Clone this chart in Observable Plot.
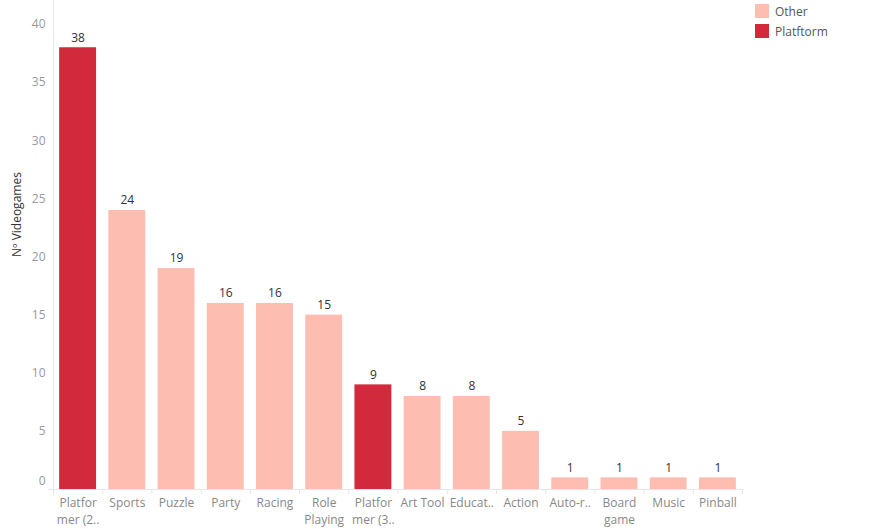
<!DOCTYPE html>
<html>
<head>
<meta charset="utf-8">
<script src="https://cdn.jsdelivr.net/npm/d3@7"></script>
<script src="https://cdn.jsdelivr.net/npm/@observablehq/plot@0.6"></script>
<style>
  body { margin: 0; background: #fff; }
  #wrap { position: relative; width: 892px; height: 529px; font-family: "Open Sans", Lato, sans-serif; }
  #legend { position: absolute; left: 755px; top: 1px; font-size: 12px; color: #555; }
  .item { display: flex; align-items: center; height: 20px; }
  .sw { width: 14px; height: 14px; margin-right: 6px; }
</style>
</head>
<body>
<div id="wrap"><div id="legend"></div></div>
<script>
const categories = ["Platformer (2D)", "Sports", "Puzzle", "Party", "Racing", "Role Playing", "Platformer (3D)", "Art Tool", "Educational", "Action", "Auto-runner", "Board game", "Music", "Pinball"];
const tickLabels = ["Platfor\nmer (2..", "Sports", "Puzzle", "Party", "Racing", "Role\nPlaying", "Platfor\nmer (3..", "Art Tool", "Educat..", "Action", "Auto-r..", "Board\ngame", "Music", "Pinball"];
const values = [38, 24, 19, 16, 16, 15, 9, 8, 8, 5, 1, 1, 1, 1];
const groups = ["Platftorm", "Other", "Other", "Other", "Other", "Other", "Platftorm", "Other", "Other", "Other", "Other", "Other", "Other", "Other"];
const legendNames = ["Other", "Platftorm"];
const legendColors = ["#fdbdb1", "#d3293d"];
const yTicks = [5, 10, 15, 20, 25, 30, 35, 40];
const yTickZero = [0];

const data = categories.map((c, i) => ({cat: c, value: values[i], group: groups[i]}));
const labelOf = new Map(categories.map((c, i) => [c, tickLabels[i]]));

const W = 892, ML = 53, MR = 150;
const halfStep = (W - ML - MR) / categories.length / 2;

const chart = Plot.plot({
  width: W,
  height: 529,
  marginLeft: ML,
  marginRight: MR,
  marginTop: 24,
  marginBottom: 40,
  style: {fontFamily: "'Open Sans', Lato, sans-serif", fontSize: "12px", background: "#fff"},
  x: {domain: categories, paddingInner: 0.25, paddingOuter: 0.125, round: false, label: null},
  y: {domain: [0, 40], label: null},
  color: {domain: legendNames, range: legendColors},
  marks: [
    Plot.frame({anchor: "left", stroke: "#e6e6e6", insetTop: -24, insetBottom: -5}),
    Plot.ruleY([0], {stroke: "#e6e6e6", insetLeft: -5}),
    Plot.ruleX(categories, {x: d => d, y1: 0, y2: 0, dx: halfStep, insetBottom: -5, stroke: "#e6e6e6"}),
    Plot.barY(data, {x: "cat", y: "value", fill: "group"}),
    Plot.text(data, {x: "cat", y: "value", text: d => String(d.value), dy: -10, fill: "#333", fontSize: 12}),
    Plot.axisY({ticks: yTicks, tickSize: 0, fill: "#999", tickPadding: 8, label: null}),
    Plot.axisY({ticks: yTickZero, tickSize: 0, fill: "#999", tickPadding: 8, dy: -8, label: null}),
    Plot.axisX({tickSize: 0, tickPadding: 6, fill: "#888", tickFormat: d => labelOf.get(d), lineHeight: 1.4, label: null}),
    Plot.text(["Nº Videogames"], {frameAnchor: "left", dx: -36, rotate: -90, fill: "#333", fontSize: 12})
  ]
});
document.getElementById("wrap").prepend(chart);

const leg = document.getElementById("legend");
legendNames.forEach((n, i) => {
  const it = document.createElement("div");
  it.className = "item";
  it.innerHTML = `<div class="sw" style="background:${legendColors[i]}"></div><span>${n}</span>`;
  leg.appendChild(it);
});
</script>
</body>
</html>
